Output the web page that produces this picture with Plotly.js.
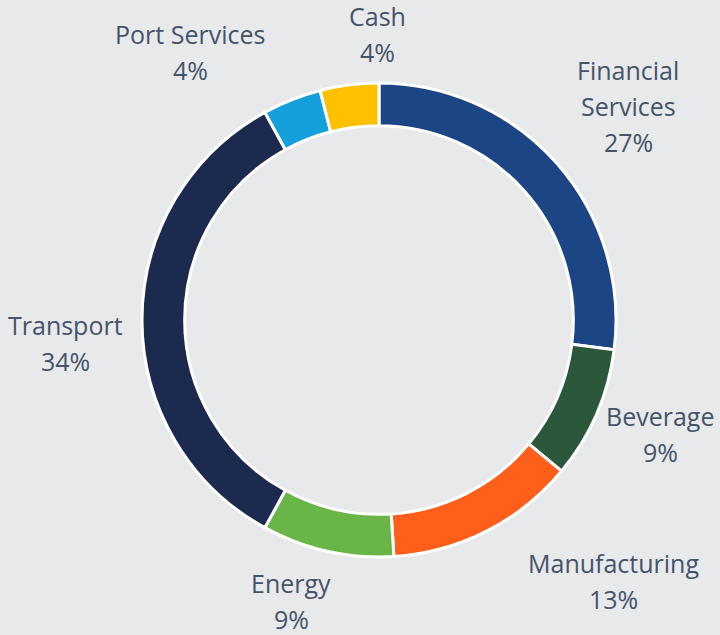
<!DOCTYPE html>
<html>
<head>
<meta charset="utf-8">
<script src="https://cdn.plot.ly/plotly-3.0.1.min.js"></script>
<style>html,body{margin:0;padding:0;background:#E8E9EB;}#chart{width:720px;height:635px;}</style>
</head>
<body>
<div id="chart"></div>
<script>
var categories = ["Financial Services", "Beverage", "Manufacturing", "Energy", "Transport", "Port Services", "Cash"];
var shares = [27, 9, 13, 9, 34, 4, 4];
var labelLines = [["Financial", "Services"], ["Beverage"], ["Manufacturing"], ["Energy"], ["Transport"], ["Port Services"], ["Cash"]];
var colors = ["#1B4584", "#2B573B", "#FF5F1A", "#6AB547", "#1C2A4F", "#14A0DB", "#FFC000"];

var W = 720, H = 635;
// label centre positions in pixels (layout only)
var labelPos = [[628, 106], [660, 434], [613, 581], [291, 601], [65, 343], [190, 52], [377, 34]];
var lineGap = 36;
var textColor = "#44546A";
var font = "Open Sans, sans-serif";

var annotations = [];
categories.forEach(function (c, i) {
  var lines = labelLines[i].concat([shares[i] + "%"]);
  var n = lines.length;
  lines.forEach(function (t, k) {
    var py = labelPos[i][1] + (k - (n - 1) / 2) * lineGap;
    annotations.push({
      x: labelPos[i][0] / W, y: 1 - py / H, xref: "paper", yref: "paper",
      text: t, showarrow: false, xanchor: "center", yanchor: "middle",
      font: {family: font, size: 25, color: textColor}
    });
  });
});

var trace = {
  type: "pie",
  labels: categories,
  values: shares,
  hole: 0.82,
  sort: false,
  direction: "clockwise",
  rotation: 0,
  textinfo: "none",
  hoverinfo: "label+percent",
  marker: {colors: colors, line: {color: "#FFFFFF", width: 3}},
  domain: {x: [142 / W, 616 / W], y: [(315 - 237) / H, (315 + 237) / H]},
  showlegend: false
};

var layout = {
  width: W, height: H,
  margin: {l: 0, r: 0, t: 0, b: 0},
  paper_bgcolor: "#E8E9EB",
  plot_bgcolor: "#E8E9EB",
  showlegend: false,
  annotations: annotations
};

Plotly.newPlot("chart", [trace], layout, {displayModeBar: false, staticPlot: true});
</script>
</body>
</html>
